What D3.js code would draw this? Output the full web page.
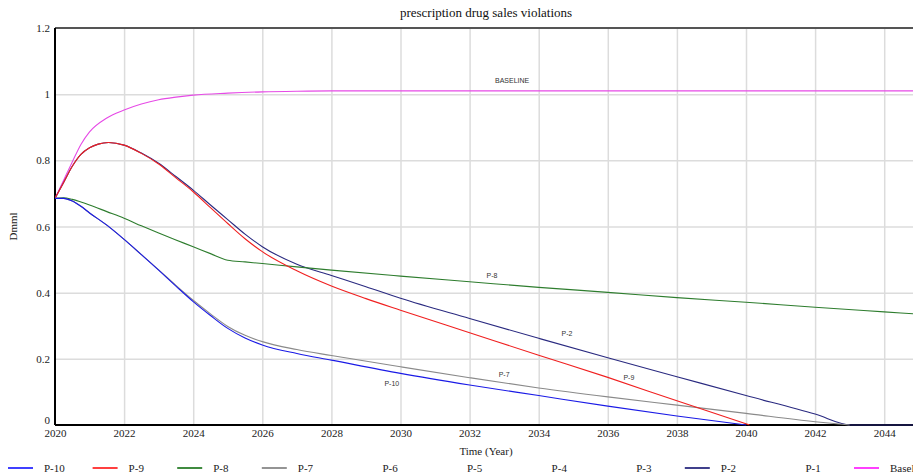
<!DOCTYPE html>
<html>
<head>
<meta charset="utf-8">
<script src="https://cdn.jsdelivr.net/npm/d3@7"></script>
<style>
  body { margin: 0; background: #fff; }
  svg { display: block; font-family: "Liberation Serif", "DejaVu Serif", serif; }
  .grid line { stroke: #dcdcdc; stroke-width: 1.5; }
  .grid path { display: none; }
  .axis path, .axis line { display: none; }
  .axis text { font-size: 11px; fill: #222; font-family: "Liberation Serif", serif; }
</style>
</head>
<body>
<svg id="chart" width="913" height="476"></svg>
<script>
// series data
const years_p10 = [2020, 2020.25, 2020.5, 2020.75, 2021, 2021.5, 2022, 2022.5, 2023, 2023.5, 2024, 2024.5, 2025, 2025.5, 2026, 2027, 2028, 2030, 2032, 2034, 2036, 2038, 2040];
const p10 = [0.685, 0.685, 0.677, 0.661, 0.641, 0.604, 0.561, 0.515, 0.468, 0.42, 0.373, 0.331, 0.292, 0.263, 0.242, 0.216, 0.196, 0.156, 0.121, 0.089, 0.057, 0.027, 0];

const years_p9 = [2020, 2020.25, 2020.5, 2020.75, 2021, 2021.25, 2021.55, 2022, 2022.5, 2023, 2023.5, 2024, 2024.5, 2025, 2025.5, 2026, 2027, 2028, 2029, 2030, 2032, 2034, 2036, 2038, 2040.1];
const p9 = [0.685, 0.733, 0.782, 0.818, 0.838, 0.849, 0.854, 0.846, 0.821, 0.789, 0.747, 0.705, 0.657, 0.609, 0.563, 0.524, 0.466, 0.42, 0.382, 0.347, 0.279, 0.211, 0.144, 0.073, 0];

const years_p8 = [2020, 2020.25, 2020.5, 2020.75, 2021, 2021.5, 2022, 2022.5, 2023, 2023.5, 2024, 2024.5, 2025, 2025.5, 2026, 2027, 2028, 2030, 2032, 2034, 2036, 2038, 2040, 2042, 2044, 2045];
const p8 = [0.685, 0.687, 0.682, 0.674, 0.665, 0.645, 0.625, 0.602, 0.58, 0.559, 0.539, 0.518, 0.498, 0.493, 0.488, 0.478, 0.468, 0.45, 0.433, 0.416, 0.401, 0.385, 0.371, 0.356, 0.342, 0.335];

const years_p7 = [2020, 2020.25, 2020.5, 2020.75, 2021, 2021.5, 2022, 2022.5, 2023, 2023.5, 2024, 2024.5, 2025, 2025.5, 2026, 2027, 2028, 2030, 2032, 2034, 2036, 2038, 2040, 2042, 2043];
const p7 = [0.685, 0.685, 0.677, 0.661, 0.641, 0.604, 0.561, 0.515, 0.469, 0.422, 0.377, 0.336, 0.298, 0.271, 0.252, 0.228, 0.21, 0.176, 0.143, 0.112, 0.085, 0.06, 0.035, 0.01, 0];

const years_p2 = [2020, 2020.25, 2020.5, 2020.75, 2021, 2021.25, 2021.55, 2022, 2022.5, 2023, 2023.5, 2024, 2024.5, 2025, 2025.5, 2026, 2027, 2028, 2029, 2030, 2032, 2034, 2036, 2038, 2040, 2042, 2043.06, 2045];
const p2 = [0.685, 0.733, 0.782, 0.818, 0.838, 0.849, 0.854, 0.846, 0.822, 0.791, 0.751, 0.71, 0.665, 0.621, 0.577, 0.539, 0.486, 0.452, 0.418, 0.383, 0.322, 0.262, 0.203, 0.146, 0.089, 0.033, 0, 0];

const years_base = [2020, 2020.25, 2020.5, 2020.75, 2021, 2021.5, 2022, 2022.5, 2023, 2023.5, 2024, 2025, 2026, 2027, 2028, 2035, 2045];
const baseline = [0.685, 0.74, 0.795, 0.848, 0.886, 0.928, 0.952, 0.97, 0.983, 0.991, 0.997, 1.003, 1.007, 1.009, 1.01, 1.01, 1.01];

const legendNames = ["P-10", "P-9", "P-8", "P-7", "P-6", "P-5", "P-4", "P-3", "P-2", "P-1", "Baseline"];
const legendColors = ["#0000ff", "#ff0000", "#006400", "#707070", null, null, null, null, "#000066", null, "#ff00ff"];

// in-chart labels, placed in data units
const labelNames = ["BASELINE", "P-8", "P-2", "P-7", "P-10", "P-9"];
const labelYears = [2033.23, 2032.65, 2034.82, 2033.0, 2029.75, 2036.61];
const labelValues = [1.033, 0.444, 0.269, 0.145, 0.118, 0.136];

const xTicks = d3.range(2020, 2045, 2);
const yTicks = [0, 0.2, 0.4, 0.6, 0.8, 1, 1.2];

// drawn back to front: Baseline at the bottom, P-10 on top
const series = [
  { name: "Baseline", years: years_base, values: baseline, color: "#e64ae6" },
  { name: "P-2", years: years_p2, values: p2, color: "#2a2a80" },
  { name: "P-7", years: years_p7, values: p7, color: "#8a8a8a" },
  { name: "P-8", years: years_p8, values: p8, color: "#2e7d2e" },
  { name: "P-9", years: years_p9, values: p9, color: "#f02020" },
  { name: "P-10", years: years_p10, values: p10, color: "#1a1ae6" }
];

const svg = d3.select("#chart");
const plotLeft = 55, plotTop = 28, plotBottom = 425;
const x = d3.scaleLinear().domain([2020, 2045]).range([plotLeft, plotLeft + 25 * 34.55]);
const y = d3.scaleLinear().domain([0, 1.2]).range([plotBottom, plotTop]);
const plotRight = x(2045);

//grid
svg.append("g").attr("class", "grid")
  .attr("transform", `translate(0,${plotBottom})`)
  .call(d3.axisBottom(x).tickValues(xTicks.slice(1)).tickSize(-(plotBottom - plotTop)).tickFormat(""));
svg.append("g").attr("class", "grid")
  .attr("transform", `translate(${plotLeft},0)`)
  .call(d3.axisLeft(y).tickValues(yTicks.slice(1, -1)).tickSize(-(plotRight - plotLeft)).tickFormat(""));

//top border
svg.append("line")
  .attr("x1", plotLeft).attr("x2", plotRight).attr("y1", y(1.2)).attr("y2", y(1.2))
  .attr("stroke", "#555").attr("stroke-width", 2);

//axes
const yAxis = svg.append("g").attr("class", "axis")
  .attr("transform", `translate(${plotLeft - 4},0)`)
  .call(d3.axisLeft(y).tickValues(yTicks).tickSize(0).tickPadding(1).tickFormat(d3.format("~g")));
yAxis.selectAll(".tick").filter((d) => d === 0).select("text").attr("dy", "-0.1em");
svg.append("g").attr("class", "axis")
  .attr("transform", `translate(0,${plotBottom + 3})`)
  .call(d3.axisBottom(x).tickValues(xTicks).tickSize(0).tickPadding(1).tickFormat(d3.format("d")));

svg.append("line")
  .attr("x1", plotLeft).attr("x2", plotLeft).attr("y1", plotTop).attr("y2", plotBottom)
  .attr("stroke", "#000").attr("stroke-width", 2);
svg.append("line")
  .attr("x1", plotLeft).attr("x2", plotRight).attr("y1", plotBottom).attr("y2", plotBottom)
  .attr("stroke", "#000").attr("stroke-width", 2);

//lines
svg.append("clipPath").attr("id", "plot")
  .append("rect").attr("x", plotLeft).attr("y", plotTop).attr("width", plotRight - plotLeft).attr("height", plotBottom - plotTop + 1);

const line = d3.line()
  .x((d) => x(d[0]))
  .y((d) => y(d[1]))
  .curve(d3.curveMonotoneX);

svg.append("g").attr("clip-path", "url(#plot)")
  .selectAll("path")
  .data(series)
  .join("path")
  .attr("fill", "none")
  .attr("stroke", (d) => d.color)
  .attr("stroke-width", 1.1)
  .attr("d", (d) => line(d.years.map((yr, i) => [yr, d.values[i]])));

//labels on lines
svg.append("g")
  .selectAll("text")
  .data(labelNames)
  .join("text")
  .attr("x", (d, i) => x(labelYears[i]))
  .attr("y", (d, i) => y(labelValues[i]))
  .attr("text-anchor", "middle")
  .attr("font-family", "'Liberation Sans', 'DejaVu Sans', sans-serif")
  .attr("font-size", 7)
  .attr("fill", "#333")
  .text((d) => d);

//titles
svg.append("text")
  .attr("x", (plotLeft + 913) / 2 + 2).attr("y", 17)
  .attr("text-anchor", "middle").attr("font-size", 13).attr("fill", "#111")
  .text("prescription drug sales violations");
svg.append("text")
  .attr("x", (plotLeft + 913) / 2 + 2).attr("y", 455)
  .attr("text-anchor", "middle").attr("font-size", 11).attr("fill", "#222")
  .text("Time (Year)");
svg.append("text")
  .attr("transform", `translate(17,${(plotTop + plotBottom) / 2}) rotate(-90)`)
  .attr("text-anchor", "middle").attr("font-size", 11).attr("fill", "#222")
  .text("Dmml");

//legend
const legend = svg.append("g")
  .selectAll("g")
  .data(legendNames)
  .join("g")
  .attr("transform", (d, i) => `translate(${8 + i * 84.6},468)`);
legend.filter((d, i) => legendColors[i])
  .append("line")
  .attr("x1", 0).attr("x2", 25)
  .attr("stroke", (d) => legendColors[legendNames.indexOf(d)])
  .attr("stroke-width", 1.5);
legend.append("text")
  .attr("x", 36).attr("y", 4)
  .attr("font-size", 11).attr("fill", "#222")
  .text((d) => d);
</script>
</body>
</html>
